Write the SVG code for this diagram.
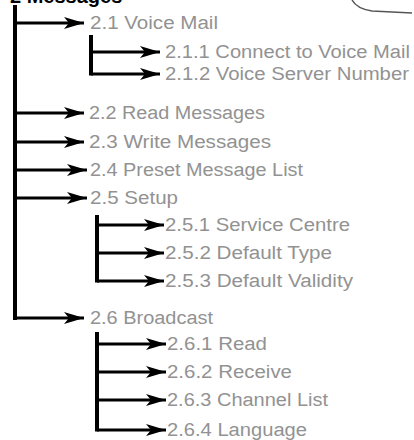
<svg xmlns="http://www.w3.org/2000/svg" width="414" height="440" viewBox="0 0 414 440">
<style>
.t{font-family:"Liberation Sans",Arial,sans-serif;font-size:18px;fill:#929292}
.h{font-family:"Liberation Sans",Arial,sans-serif;font-size:20px;font-weight:bold;fill:#000}
.ln{stroke:#000;stroke-width:4;fill:none}
.ar{stroke:#000;stroke-width:3;fill:none}
</style>
<defs>
<marker id="ah" markerUnits="userSpaceOnUse" markerWidth="22" markerHeight="14" refX="20" refY="7" orient="auto">
<path d="M0,1 L20,7 L0,13 L5,7 Z" fill="#000"/>
</marker>
</defs>
<rect width="414" height="440" fill="#fff"/>
<g id="title"><text class="h" x="10" y="3">2 Messages</text></g>
<g id="icon"><path d="M352,0 Q357,9 372,11 L412,13" stroke="#555" stroke-width="1.5" fill="none"/></g>
<g id="connectors">
<line class="ln" x1="15" y1="5" x2="15" y2="320"/>
<line class="ar" x1="15" y1="23" x2="84" y2="23" marker-end="url(#ah)"/>
<line class="ar" x1="15" y1="113" x2="84" y2="113" marker-end="url(#ah)"/>
<line class="ar" x1="15" y1="142" x2="84" y2="142" marker-end="url(#ah)"/>
<line class="ar" x1="15" y1="170" x2="87" y2="170" marker-end="url(#ah)"/>
<line class="ar" x1="15" y1="198" x2="87" y2="198" marker-end="url(#ah)"/>
<line class="ar" x1="15" y1="318" x2="84" y2="318" marker-end="url(#ah)"/>
<line class="ln" x1="91" y1="35" x2="91" y2="75.5"/>
<line class="ar" x1="91" y1="52" x2="160" y2="52" marker-end="url(#ah)"/>
<line class="ar" x1="91" y1="74" x2="160" y2="74" marker-end="url(#ah)"/>
<line class="ln" x1="97" y1="215" x2="97" y2="282.5"/>
<line class="ar" x1="97" y1="225" x2="164" y2="225" marker-end="url(#ah)"/>
<line class="ar" x1="97" y1="253" x2="164" y2="253" marker-end="url(#ah)"/>
<line class="ar" x1="97" y1="281" x2="164" y2="281" marker-end="url(#ah)"/>
<line class="ln" x1="97" y1="332" x2="97" y2="431.5"/>
<line class="ar" x1="97" y1="344" x2="166" y2="344" marker-end="url(#ah)"/>
<line class="ar" x1="97" y1="372" x2="166" y2="372" marker-end="url(#ah)"/>
<line class="ar" x1="97" y1="400" x2="166" y2="400" marker-end="url(#ah)"/>
<line class="ar" x1="97" y1="430" x2="166" y2="430" marker-end="url(#ah)"/>
</g>
<g id="n21"><text class="t" x="90" y="29" textLength="128" lengthAdjust="spacingAndGlyphs">2.1  Voice Mail</text></g>
<g id="n211"><text class="t" x="165" y="58" textLength="245" lengthAdjust="spacingAndGlyphs">2.1.1  Connect to Voice Mail</text></g>
<g id="n212"><text class="t" x="165" y="80" textLength="244" lengthAdjust="spacingAndGlyphs">2.1.2  Voice Server Number</text></g>
<g id="n22"><text class="t" x="89" y="119" textLength="176" lengthAdjust="spacingAndGlyphs">2.2  Read Messages</text></g>
<g id="n23"><text class="t" x="89" y="148" textLength="182" lengthAdjust="spacingAndGlyphs">2.3  Write Messages</text></g>
<g id="n24"><text class="t" x="90" y="176" textLength="213" lengthAdjust="spacingAndGlyphs">2.4  Preset Message List</text></g>
<g id="n25"><text class="t" x="90" y="204" textLength="88" lengthAdjust="spacingAndGlyphs">2.5  Setup</text></g>
<g id="n251"><text class="t" x="165" y="231" textLength="185" lengthAdjust="spacingAndGlyphs">2.5.1  Service Centre</text></g>
<g id="n252"><text class="t" x="165" y="259" textLength="167" lengthAdjust="spacingAndGlyphs">2.5.2  Default Type</text></g>
<g id="n253"><text class="t" x="165" y="287" textLength="188" lengthAdjust="spacingAndGlyphs">2.5.3  Default Validity</text></g>
<g id="n26"><text class="t" x="90" y="324" textLength="123" lengthAdjust="spacingAndGlyphs">2.6  Broadcast</text></g>
<g id="n261"><text class="t" x="167" y="350" textLength="100" lengthAdjust="spacingAndGlyphs">2.6.1  Read</text></g>
<g id="n262"><text class="t" x="167" y="378" textLength="125" lengthAdjust="spacingAndGlyphs">2.6.2  Receive</text></g>
<g id="n263"><text class="t" x="167" y="406" textLength="161" lengthAdjust="spacingAndGlyphs">2.6.3  Channel List</text></g>
<g id="n264"><text class="t" x="167" y="436" textLength="140" lengthAdjust="spacingAndGlyphs">2.6.4  Language</text></g>
</svg>
